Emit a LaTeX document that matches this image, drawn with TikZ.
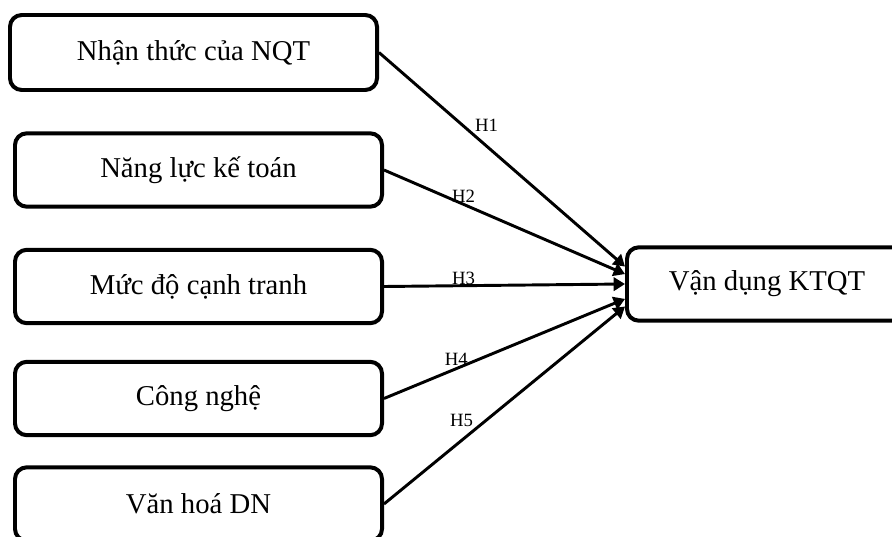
\documentclass[tikz,border=0pt]{standalone}
\usepackage{fontspec}
\setmainfont{Liberation Serif}
\usepackage{tikz}
\usetikzlibrary{
  arrows.meta,
  positioning,
}

\begin{document}
\begin{tikzpicture}[
  x=0.03cm, y=-0.03cm,
  every node/.style={align=center},
  factor/.style={draw=black, line width=3.4pt, rounded corners=10pt,
                 minimum width=11.01cm, minimum height=2.2cm,
                 font=\fontsize{24.5}{28}\selectfont},
  arrow/.style={-{Triangle[length=0.34cm, width=0.4cm]}, line width=2.5pt},
  hyp/.style={font=\fontsize{16}{18}\selectfont, inner sep=1pt},
]

\useasboundingbox (0,0) rectangle (892,537);

\node[factor, minimum height=2.25cm] (nqt) at (193.5,52.5) {Nhận thức của NQT};
\node[factor] (nlkt) at (198.5,170) {Năng lực kế toán};
\node[factor] (cttr) at (198.5,286.5) {Mức độ cạnh tranh};
\node[factor] (cn) at (198.5,398.5) {Công nghệ};
\node[factor] (vhdn) at (198.5,504) {Văn hoá DN};

\node[factor, minimum width=8.4cm] (ktqt) at (767,284) {Vận dụng KTQT};

\draw[arrow] (nqt.east) -- node[hyp, pos=0.38, anchor=south west] {H1} (ktqt.173.5);
\draw[arrow] (nlkt.east) -- node[hyp, pos=0.33, above, inner sep=0pt] {H2} (ktqt.176);
\draw[arrow] (cttr.east) -- node[hyp, pos=0.33, above, inner sep=0pt] {H3} (ktqt.west);
\draw[arrow] (cn.east) -- node[hyp, pos=0.3, above] {H4} (ktqt.186.5);
\draw[arrow] (vhdn.east) -- node[hyp, pos=0.38, anchor=south east] {H5} (ktqt.189);

\end{tikzpicture}
\end{document}
